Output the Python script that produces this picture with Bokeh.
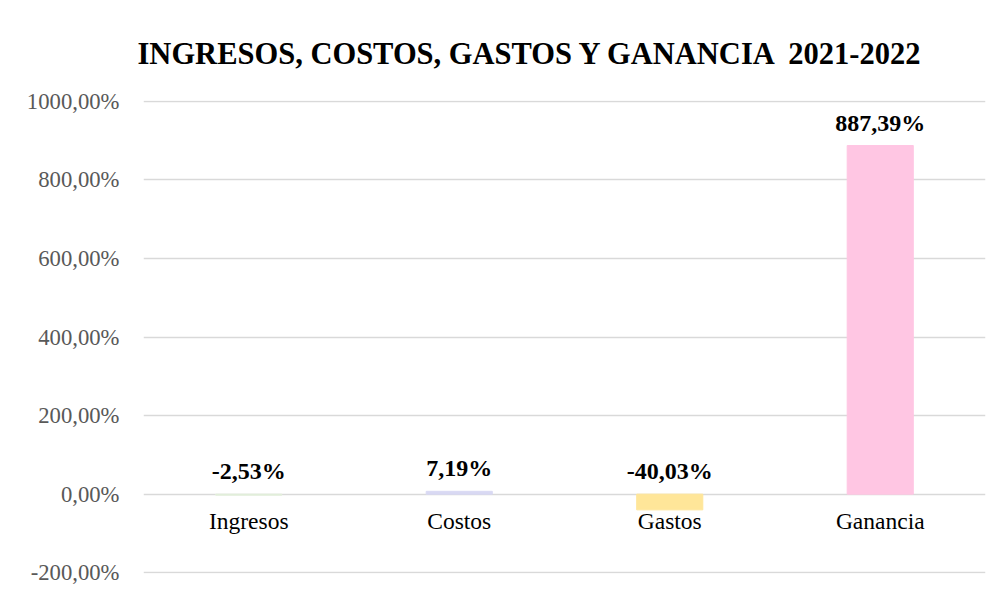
from bokeh.plotting import figure
from bokeh.models import ColumnDataSource, FixedTicker, CustomJSTickFormatter, Range1d, FactorRange, BoxAnnotation
from bokeh.core.properties import value
from bokeh.embed import file_html
from bokeh.resources import INLINE

categories = ["Ingresos", "Costos", "Gastos", "Ganancia"]
values = [-2.53, 7.19, -40.03, 887.39]
colors = ["#E2EFDA", "#D9D9F3", "#FFE699", "#FFC6E3"]
y_ticks = [-200, 0, 200, 400, 600, 800, 1000]
title_text = "INGRESOS, COSTOS, GASTOS Y GANANCIA \u00a02021-2022"

labels = [("%.2f" % v).replace(".", ",") + "%" for v in values]
label_y = [max(v, 0) for v in values]

src = ColumnDataSource(dict(cat=categories, val=values, color=colors,
                            lab=labels, ly=label_y, zero=[0] * len(values)))

p = figure(width=991, height=590, output_backend="svg", toolbar_location=None,
           x_range=FactorRange(*categories, range_padding=0),
           y_range=Range1d(-202, 1002),
           title=title_text,
           min_border_left=143, min_border_right=6, min_border_top=100, min_border_bottom=17)

p.title.text_font = "Liberation Serif"
p.title.text_font_size = "30.5px"
p.title.text_font_style = "bold"
p.title.text_color = "#000000"
p.title.align = "left"
p.title.offset = -6
p.title.standoff = 59

p.vbar(x="cat", top="val", bottom=0, width=0.314, color="color", source=src)

p.text(x="cat", y="ly", text="lab", source=src, text_align="center", text_baseline="middle",
       y_offset=-23, text_font=value("Liberation Serif"), text_font_size="24px",
       text_font_style="bold", text_color="#000000")

p.text(x="cat", y="zero", text="cat", source=src, text_align="center", text_baseline="middle",
       y_offset=27, text_font=value("Liberation Serif"), text_font_size="23.5px",
       text_color="#000000")

p.xaxis.visible = False
p.yaxis.ticker = FixedTicker(ticks=y_ticks)
p.yaxis.formatter = CustomJSTickFormatter(code="return tick.toFixed(2).replace('.', ',') + '%';")
p.yaxis.axis_line_color = None
p.yaxis.major_tick_line_color = None
p.yaxis.minor_tick_line_color = None
p.yaxis.major_label_standoff = 18
p.yaxis.major_label_text_font = "Liberation Serif"
p.yaxis.major_label_text_font_size = "22.7px"
p.yaxis.major_label_text_color = "#595959"

p.xgrid.grid_line_color = None
p.ygrid.ticker = FixedTicker(ticks=y_ticks)
p.ygrid.grid_line_color = "#D9D9D9"
p.ygrid.grid_line_width = 1.5
p.outline_line_color = None

# faint chart-area border fragments seen at the left and top-right edges
p.add_layout(BoxAnnotation(left=7, right=9, top=17, bottom=596,
                           left_units="canvas", right_units="canvas",
                           top_units="canvas", bottom_units="canvas",
                           fill_color="#D9D9D9", fill_alpha=1, line_color=None, level="overlay"))
p.add_layout(BoxAnnotation(left=915, right=985, top=11, bottom=13,
                           left_units="canvas", right_units="canvas",
                           top_units="canvas", bottom_units="canvas",
                           fill_color="#D9D9D9", fill_alpha=1, line_color=None, level="overlay"))

open("out.html", "w").write(file_html(p, INLINE))
